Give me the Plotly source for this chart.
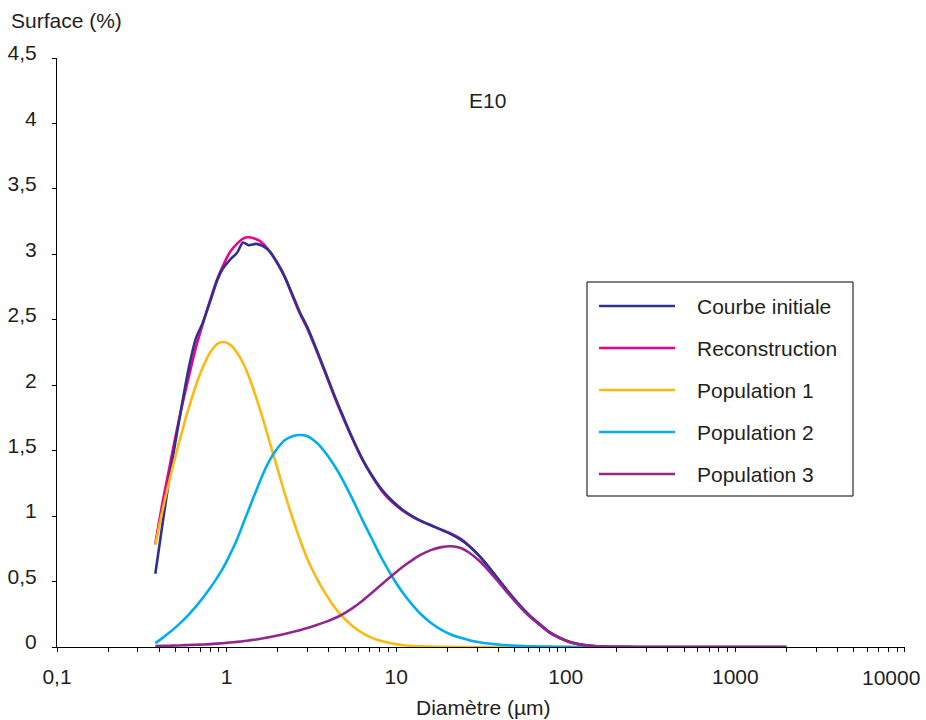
import plotly.graph_objects as go

# Particle diameter grid (µm) shared by all curves
diam_um = [0.38, 0.42, 0.46, 0.5, 0.55, 0.6, 0.66, 0.72, 0.8, 0.88,
           0.95, 1.05, 1.15, 1.25, 1.35, 1.5, 1.65, 1.8, 2.0, 2.2,
           2.45, 2.7, 3.0, 3.4, 3.8, 4.3, 4.8, 5.5, 6.3, 7.2,
           8.2, 9.5, 11, 12.5, 14, 16, 18.5, 21, 24, 27,
           31, 35, 40, 46, 53, 61, 70, 80, 92, 105,
           120, 140, 170, 220, 300, 500, 1000, 2000]

# Surface distributions (%)
courbe_initiale = [0.56, 0.95, 1.29, 1.57, 1.88, 2.14, 2.36, 2.47, 2.64, 2.80,
                   2.89, 2.96, 3.01, 3.09, 3.07, 3.08, 3.06, 3.02, 2.93, 2.83,
                   2.69, 2.56, 2.44, 2.27, 2.11, 1.93, 1.78, 1.60, 1.44, 1.31,
                   1.205, 1.115, 1.045, 0.998, 0.963, 0.93, 0.895, 0.862, 0.82, 0.77,
                   0.695, 0.615, 0.52, 0.42, 0.326, 0.243, 0.176, 0.115, 0.071, 0.04,
                   0.021, 0.01, 0.004, 0.001, 0, 0, 0, 0]

reconstruction = [0.79, 1.11, 1.37, 1.61, 1.86, 2.07, 2.29, 2.46, 2.65, 2.81,
                  2.91, 3.02, 3.08, 3.12, 3.13, 3.115, 3.08, 3.02, 2.93, 2.83,
                  2.68, 2.55, 2.43, 2.26, 2.10, 1.92, 1.77, 1.595, 1.435, 1.305,
                  1.195, 1.105, 1.04, 0.995, 0.962, 0.93, 0.897, 0.867, 0.826, 0.772,
                  0.694, 0.613, 0.518, 0.418, 0.324, 0.241, 0.174, 0.113, 0.07, 0.039,
                  0.02, 0.009, 0.003, 0.001, 0, 0, 0, 0]

population_1 = [0.78, 1.05, 1.27, 1.46, 1.66, 1.83, 2.00, 2.13, 2.25, 2.315,
                2.33, 2.31, 2.25, 2.17, 2.07, 1.90, 1.73, 1.56, 1.36, 1.175,
                0.985, 0.825, 0.67, 0.525, 0.415, 0.31, 0.235, 0.163, 0.108, 0.07,
                0.045, 0.026, 0.014, 0.008, 0.005, 0.003, 0.002, 0.001, 0, 0,
                0, 0, 0, 0, 0, 0, 0, 0, 0, 0,
                0, 0, 0, 0, 0, 0, 0, 0]

population_2 = [0.03, 0.07, 0.11, 0.15, 0.20, 0.25, 0.31, 0.37, 0.45, 0.53,
                0.60, 0.71, 0.82, 0.94, 1.05, 1.20, 1.33, 1.43, 1.52, 1.58,
                1.61, 1.62, 1.61, 1.56, 1.49, 1.39, 1.285, 1.135, 0.975, 0.825,
                0.68, 0.535, 0.41, 0.32, 0.25, 0.185, 0.13, 0.095, 0.07, 0.052,
                0.037, 0.027, 0.019, 0.013, 0.009, 0.006, 0.004, 0.003, 0.002, 0.001,
                0, 0, 0, 0, 0, 0, 0, 0]

population_3 = [0.008, 0.009, 0.010, 0.011, 0.013, 0.015, 0.017, 0.019, 0.022, 0.026,
                0.029, 0.034, 0.039, 0.044, 0.050, 0.058, 0.067, 0.076, 0.088, 0.100,
                0.114, 0.128, 0.145, 0.168, 0.19, 0.218, 0.248, 0.295, 0.352, 0.415,
                0.478, 0.548, 0.615, 0.666, 0.705, 0.740, 0.763, 0.770, 0.756, 0.720,
                0.657, 0.586, 0.499, 0.405, 0.315, 0.235, 0.170, 0.11, 0.068, 0.038,
                0.02, 0.009, 0.003, 0.001, 0, 0, 0, 0]

series_names = ["Courbe initiale", "Reconstruction", "Population 1",
                "Population 2", "Population 3"]
series_values = [courbe_initiale, reconstruction, population_1,
                 population_2, population_3]
series_colors = ["#2E3192", "#EC008C", "#FDB913", "#00AEEF", "#92278F"]

x_tick_vals = [0.1, 1, 10, 100, 1000, 10000]
x_tick_text = ["0,1", "1", "10", "100", "1000", "10000"]
y_tick_vals = [0, 0.5, 1, 1.5, 2, 2.5, 3, 3.5, 4, 4.5]
y_tick_text = ["0", "0,5", "1", "1,5", "2", "2,5", "3", "3,5", "4", "4,5"]

chart_title = "E10"
x_title = "Diamètre (µm)"
y_title = "Surface (%)"

# Page geometry (pixels)
W, H = 926, 720
ML, MR, MT, MB = 57, 21, 58, 73
PW, PH = W - ML - MR, H - MT - MB
FONT = "Liberation Sans, Arial, Helvetica, sans-serif"
INK = "#231F20"
LINE_W = 2.6


def px_x(p):
    return (p - ML) / PW


def px_y(p):
    return (H - MB - p) / PH


minor_x = [m * 10 ** e for e in range(-1, 4) for m in range(2, 10)]
x_range = [-1, 4.0005]

fig = go.Figure()

# Reconstruction underneath, then the measured curve, then the populations
draw_order = [1, 0, 2, 3, 4]
for i in draw_order:
    fig.add_trace(go.Scatter(
        x=diam_um, y=series_values[i], name=series_names[i], mode="lines",
        line=dict(color=series_colors[i], width=LINE_W, shape="spline", smoothing=0.8),
        showlegend=False, hoverinfo="x+y+name"))

axis_common = dict(showgrid=False, zeroline=False, tickcolor="black",
                   tickwidth=1, ticklen=4, automargin=False)

# the last decade label is set as a separate text, pulled left so it fits the page
x_axis_text = x_tick_text[:-1] + [""]

fig.update_layout(
    width=W, height=H,
    margin=dict(l=ML, r=MR, t=MT, b=MB, pad=0, autoexpand=False),
    paper_bgcolor="white", plot_bgcolor="white",
    font=dict(family=FONT, size=21, color=INK),
    showlegend=False,
    xaxis=dict(type="log", range=x_range, showline=True, linecolor="black",
               linewidth=1, ticks="outside", tickmode="array",
               tickvals=x_tick_vals, ticktext=x_axis_text,
               ticklabelstandoff=7,
               minor=dict(ticks="outside", ticklen=4, tickcolor="black",
                          tickmode="array", tickvals=minor_x),
               **axis_common),
    yaxis=dict(range=[0, 4.5], showline=True, linecolor="black", linewidth=1,
               ticks="outside", tickmode="array", tickvals=y_tick_vals,
               ticktext=y_tick_text, ticklabelstandoff=11, ticklabelshift=-5,
               **axis_common),
    # overlay axes supply the inner half of each tick so ticks cross the axis lines
    xaxis2=dict(type="log", range=x_range, overlaying="x", anchor="y", side="bottom",
                showline=False, ticks="inside", tickmode="array",
                tickvals=x_tick_vals, showticklabels=False,
                minor=dict(ticks="inside", ticklen=4, tickcolor="black",
                           tickmode="array", tickvals=minor_x),
                **axis_common),
    yaxis2=dict(range=[0, 4.5], overlaying="y", anchor="x", side="left",
                showline=False, ticks="inside", tickmode="array",
                tickvals=y_tick_vals, showticklabels=False, **axis_common),
)

annotations = [
    dict(text=y_title, xref="paper", yref="paper", x=px_x(9), y=px_y(21),
         xanchor="left", yanchor="middle", showarrow=False),
    dict(text=chart_title, xref="paper", yref="paper", x=px_x(487), y=px_y(100),
         xanchor="center", yanchor="middle", showarrow=False),
    dict(text=x_title, xref="paper", yref="paper", x=px_x(483), y=px_y(707),
         xanchor="center", yanchor="middle", showarrow=False),
    dict(text=x_tick_text[-1], xref="paper", yref="paper", x=px_x(922), y=px_y(677),
         xanchor="right", yanchor="middle", showarrow=False),
]

# Hand-drawn legend box: long line samples with labels
shapes = [dict(type="rect", xref="paper", yref="paper",
               x0=px_x(587), x1=px_x(853), y0=px_y(496), y1=px_y(282),
               line=dict(color="black", width=1), fillcolor="white", layer="above")]
row_y = [306, 348, 390, 432, 474]
for name, color, ry in zip(series_names, series_colors, row_y):
    shapes.append(dict(type="line", xref="paper", yref="paper",
                       x0=px_x(599), x1=px_x(675), y0=px_y(ry), y1=px_y(ry),
                       line=dict(color=color, width=LINE_W), layer="above"))
    annotations.append(dict(text=name, xref="paper", yref="paper",
                            x=px_x(695), y=px_y(ry), xanchor="left",
                            yanchor="middle", showarrow=False))

fig.update_layout(shapes=shapes, annotations=annotations)

fig.write_html("out.html")
